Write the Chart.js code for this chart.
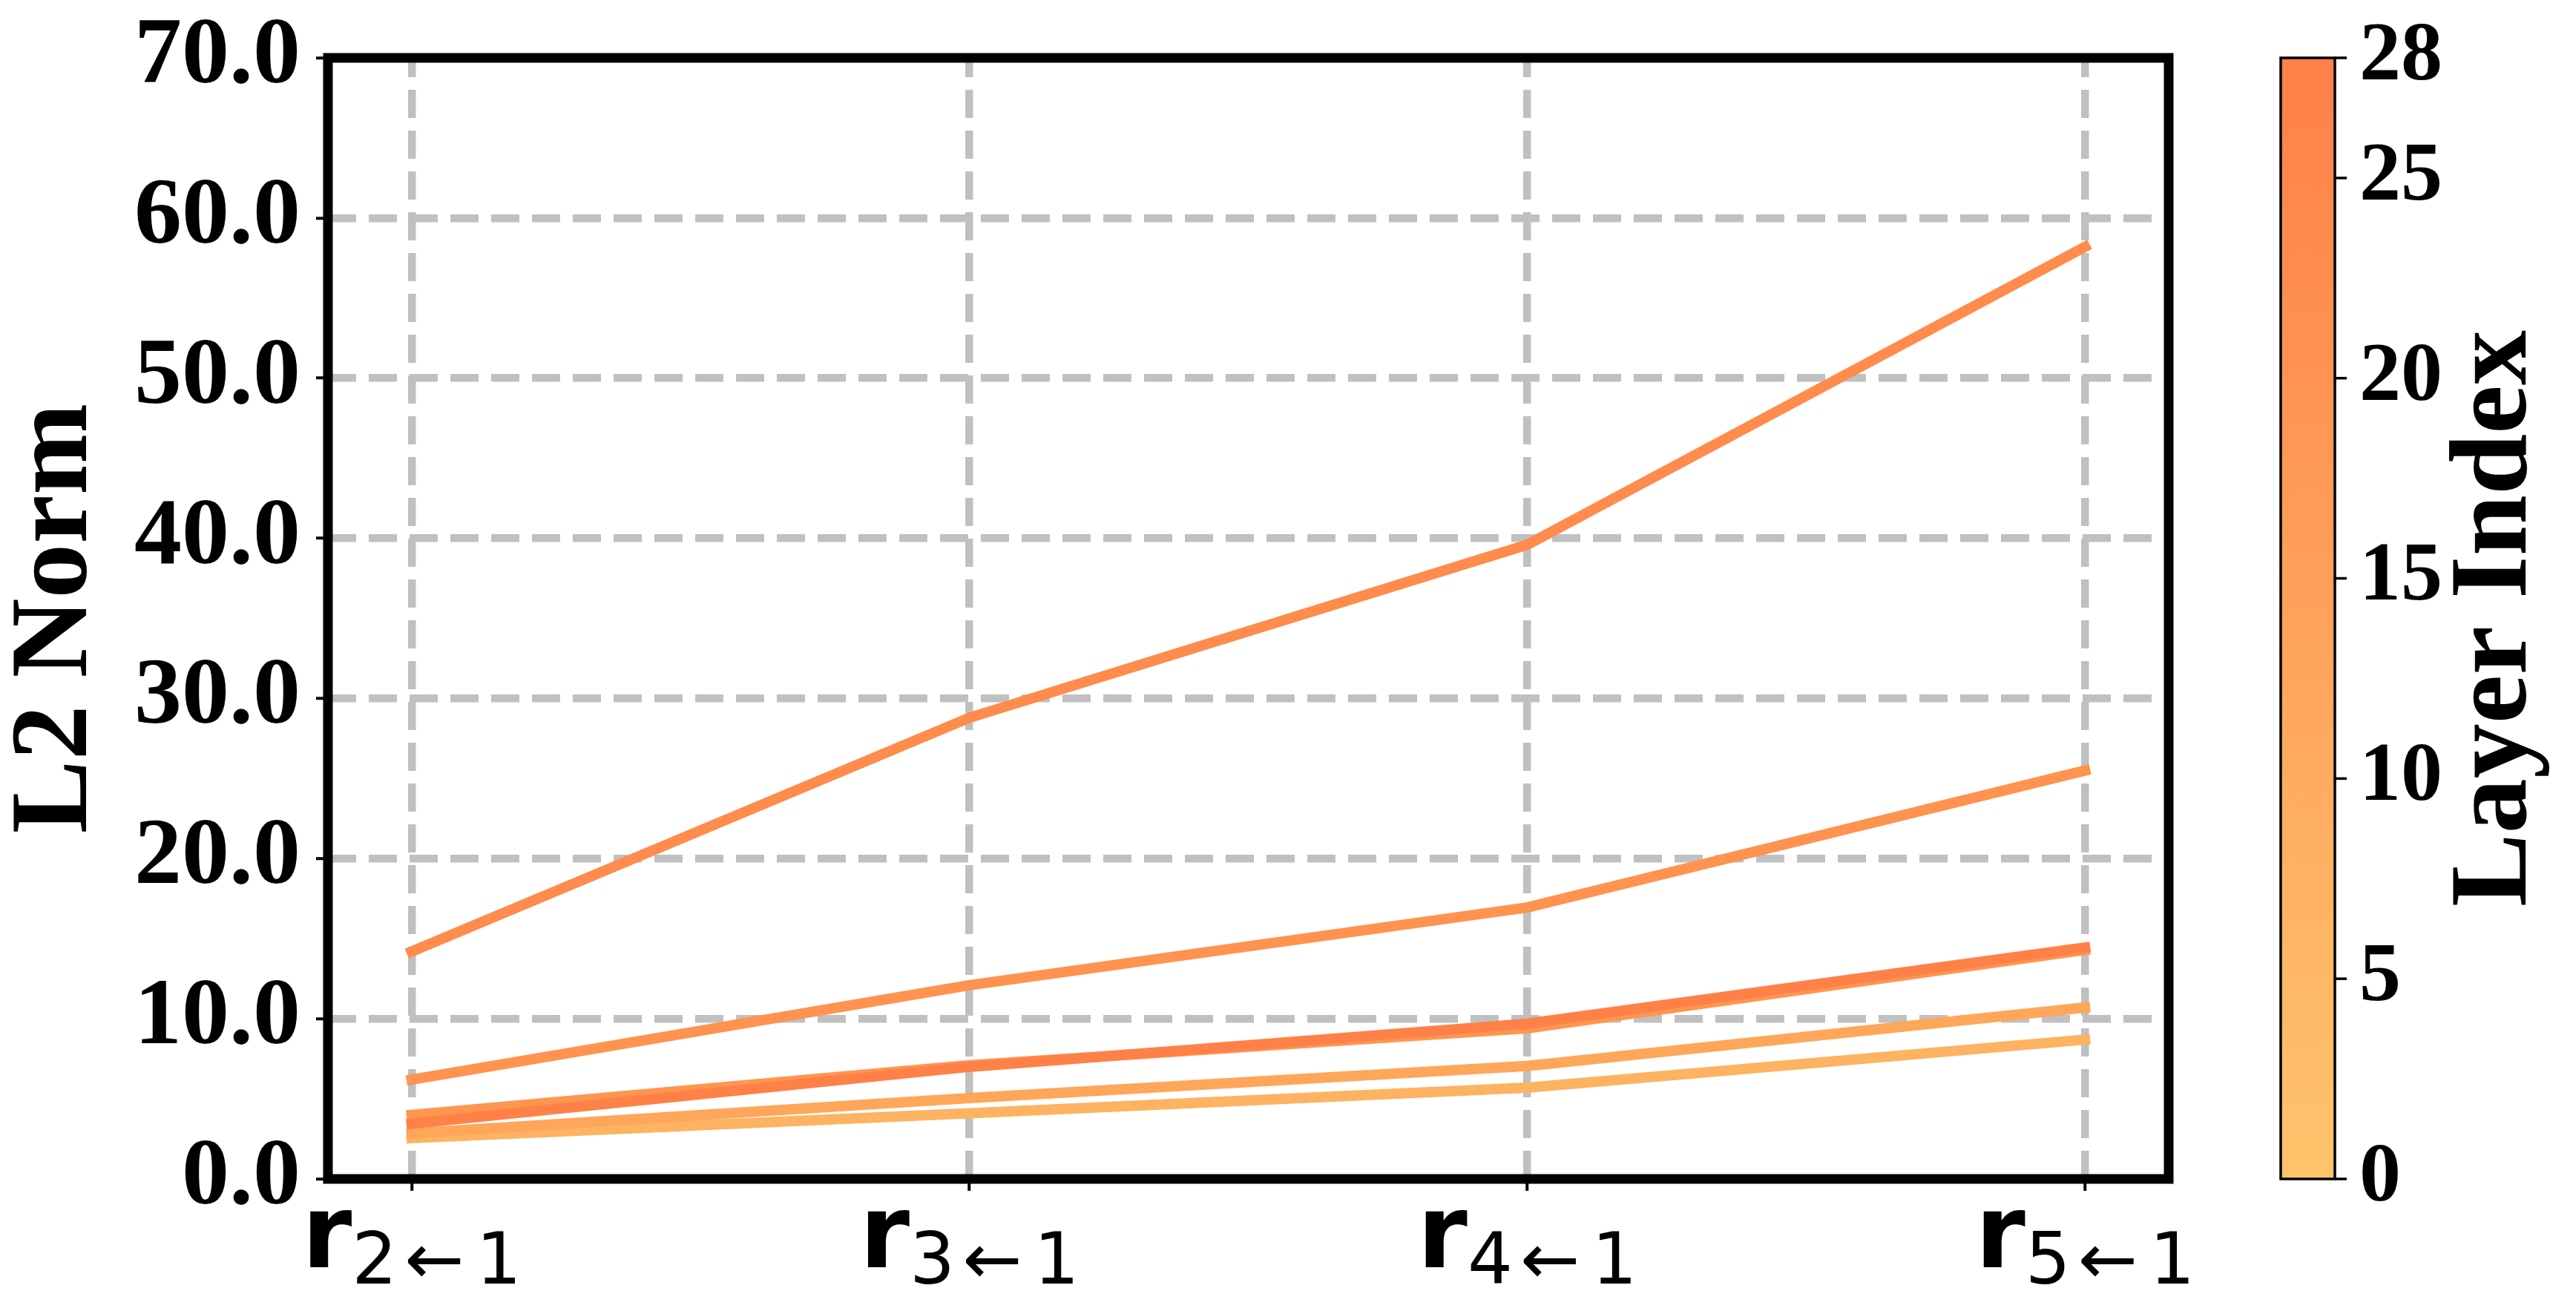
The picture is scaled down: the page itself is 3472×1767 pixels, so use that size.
<!DOCTYPE html>
<html>
<head>
<meta charset="utf-8">
<script src="https://cdn.jsdelivr.net/npm/chart.js@4.4.1/dist/chart.umd.min.js"></script>
<style>
  html, body { margin: 0; padding: 0; background: #ffffff; }
  #wrap { width: 3472px; height: 1767px; }
</style>
</head>
<body>
<div id="wrap"><canvas id="c" width="3472" height="1767"></canvas></div>
<script>
// ---------------- data ----------------
const categories = ['r2←1', 'r3←1', 'r4←1', 'r5←1'];
const layerIndex = [7, 12, 18, 20, 24, 28];
const layer7  = [2.55, 4.1, 5.7, 8.7];
const layer12 = [2.85, 5.05, 7.05, 10.7];
const layer18 = [4.0, 7.1, 9.4, 14.3];
const layer20 = [6.2, 12.1, 16.95, 25.5];
const layer24 = [14.2, 28.8, 39.6, 58.2];
const layer28 = [3.45, 7.0, 9.7, 14.45];
const yTicks = [0, 10, 20, 30, 40, 50, 60, 70];
const colorbarTicks = [0, 5, 10, 15, 20, 25, 28];
const yTitle = 'L2 Norm';
const colorbarTitle = 'Layer Index';

// ---------------- styles ----------------
const seriesValues = [layer7, layer12, layer18, layer20, layer24, layer28];
const seriesColors = ['#FDB362', '#FEA65A', '#FF9650', '#FF934F', '#FF8B4C', '#FF8148'];
const cmapLow = [254, 196, 108];
const cmapHigh = [255, 128, 73];

const datasets = seriesValues.map((vals, k) => ({
  label: 'Layer ' + layerIndex[k],
  data: vals.map((v, i) => ({ x: i, y: v })),
  borderColor: seriesColors[k],
  backgroundColor: seriesColors[k],
  borderWidth: 14,
  borderCapStyle: 'square',
  borderJoinStyle: 'round',
  pointRadius: 0,
  pointHoverRadius: 0,
  tension: 0,
  fill: false,
  clip: false,
  order: 28 - layerIndex[k]
}));

const serif = '"Liberation Serif", "Times New Roman", serif';

const decorPlugin = {
  id: 'decor',
  afterDraw(chart) {
    const ctx = chart.ctx;
    const a = chart.chartArea;
    ctx.save();
    // frame
    ctx.strokeStyle = '#000';
    ctx.lineWidth = 13;
    ctx.strokeRect(a.left, a.top, a.right - a.left, a.bottom - a.top);

    // x tick labels: bold r with subscript
    const xs = chart.scales.x;
    ctx.fillStyle = '#000';
    ctx.textAlign = 'left';
    ctx.textBaseline = 'alphabetic';
    categories.forEach((lab, i) => {
      const base = lab[0];
      const sub = lab.slice(1);
      const p0 = sub[0], p1 = sub[1], p2 = sub.slice(2);
      ctx.font = 'bold 137px "DejaVu Sans"';
      const wb = ctx.measureText(base).width;
      ctx.font = '96px "DejaVu Sans"';
      const w0 = ctx.measureText(p0).width;
      const w1 = ctx.measureText(p1).width;
      const w2 = ctx.measureText(p2).width;
      const g1 = 10, g2 = 16;
      const total = wb + w0 + g1 + w1 + g2 + w2;
      let x = xs.getPixelForValue(i) - total / 2;
      ctx.font = 'bold 137px "DejaVu Sans"';
      ctx.fillText(base, x, 1708);
      x += wb;
      ctx.font = '96px "DejaVu Sans"';
      ctx.fillText(p0, x, 1730); x += w0 + g1;
      ctx.fillText(p1, x, 1730); x += w1 + g2;
      ctx.fillText(p2, x, 1730);
    });

    // colorbar
    const cb = chart.scales.cb;
    const cbL = 3074, cbR = 3147;
    const yTop = cb.getPixelForValue(28), yBot = cb.getPixelForValue(0);
    const grad = ctx.createLinearGradient(0, yBot, 0, yTop);
    grad.addColorStop(0, 'rgb(' + cmapLow.join(',') + ')');
    grad.addColorStop(1, 'rgb(' + cmapHigh.join(',') + ')');
    ctx.fillStyle = grad;
    ctx.fillRect(cbL, yTop, cbR - cbL, yBot - yTop);
    ctx.strokeStyle = '#000';
    ctx.lineWidth = 3.5;
    ctx.strokeRect(cbL, yTop, cbR - cbL, yBot - yTop);
    ctx.fillStyle = '#000';
    ctx.font = 'bold 112px ' + serif;
    ctx.textAlign = 'left';
    ctx.textBaseline = 'middle';
    colorbarTicks.forEach(t => {
      const y = cb.getPixelForValue(t);
      ctx.beginPath();
      ctx.moveTo(cbR, y);
      ctx.lineTo(cbR + 16, y);
      ctx.lineWidth = 3.5;
      ctx.stroke();
      ctx.fillText(String(t), 3180, y);
    });
    // colorbar title
    ctx.save();
    ctx.translate(3366, (yTop + yBot) / 2);
    ctx.rotate(-Math.PI / 2);
    ctx.textAlign = 'center';
    ctx.textBaseline = 'middle';
    ctx.font = 'bold 148px ' + serif;
    ctx.fillText(colorbarTitle, 0, 0);
    ctx.restore();
    ctx.restore();
  }
};

new Chart(document.getElementById('c').getContext('2d'), {
  type: 'line',
  data: { datasets },
  options: {
    responsive: false,
    devicePixelRatio: 1,
    animation: false,
    events: [],
    layout: { padding: { top: 78, right: 549, bottom: 0, left: 0 } },
    plugins: { legend: { display: false }, tooltip: { enabled: false } },
    scales: {
      x: {
        type: 'linear',
        min: -0.15,
        max: 3.15,
        afterBuildTicks: s => { s.ticks = categories.map((c, i) => ({ value: i })); },
        afterFit: s => { s.height = 178; s.paddingLeft = 0; s.paddingRight = 0; },
        ticks: { autoSkip: false, callback: () => '', padding: 0 },
        grid: {
          color: '#c0c0c0',
          lineWidth: 10.5,
          drawTicks: true,
          tickLength: 16,
          tickColor: '#000',
          tickWidth: 4,
          tickBorderDash: []
        },
        border: { display: false, dash: [38, 17], dashOffset: 12 }
      },
      y: {
        type: 'linear',
        min: 0,
        max: 70,
        afterBuildTicks: s => { s.ticks = yTicks.map(v => ({ value: v })); },
        afterFit: s => { s.width = 442; s.paddingTop = 0; s.paddingBottom = 0; },
        ticks: {
          autoSkip: false,
          callback: v => Number(v).toFixed(1),
          color: '#000',
          font: { family: serif, size: 128, weight: 'bold' },
          padding: 21
        },
        grid: {
          color: '#c0c0c0',
          lineWidth: 10.5,
          drawTicks: true,
          tickLength: 16,
          tickColor: '#000',
          tickWidth: 4,
          tickBorderDash: []
        },
        border: { display: false, dash: [38, 17], dashOffset: 0 },
        title: {
          display: true,
          text: yTitle,
          color: '#000',
          font: { family: serif, size: 148, weight: 'bold', lineHeight: 1.05 },
          padding: 0
        }
      },
      cb: {
        type: 'linear',
        position: 'right',
        min: 0,
        max: 28,
        display: false
      }
    }
  },
  plugins: [decorPlugin]
});
</script>
</body>
</html>
